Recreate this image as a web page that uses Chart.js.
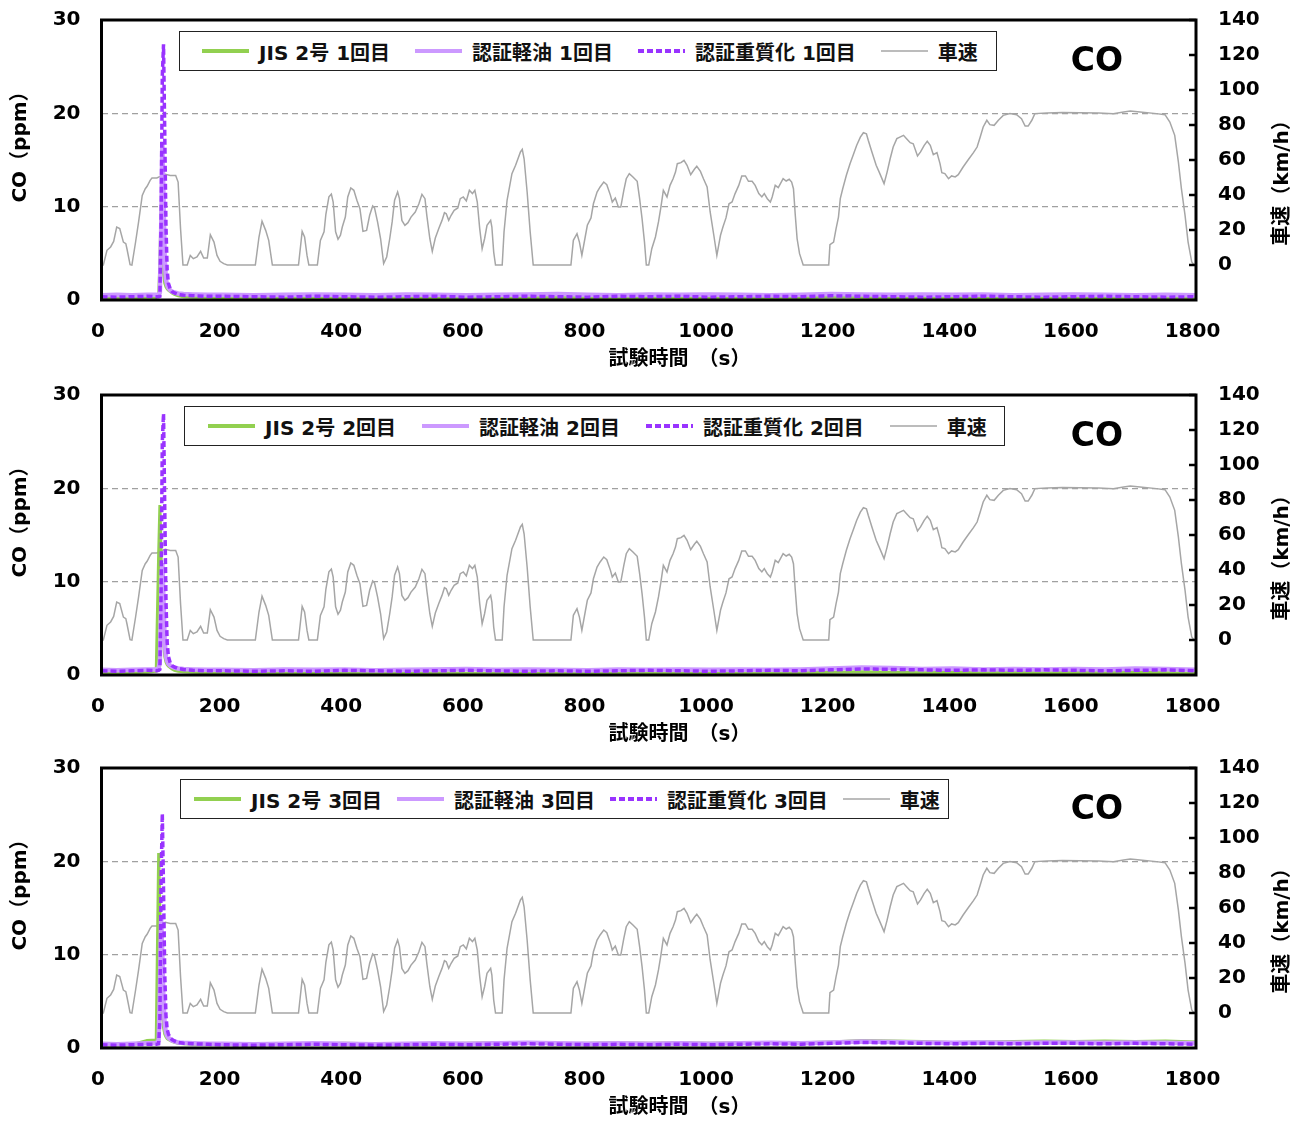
<!DOCTYPE html>
<html lang="ja">
<head>
<meta charset="utf-8">
<title>CO 排出量と車速</title>
<script src="https://cdn.jsdelivr.net/npm/chart.js@4.4.1/dist/chart.umd.min.js"></script>
<style>
  html, body { margin: 0; padding: 0; background: #fff; }
  body { width: 1312px; height: 1122px; position: relative; overflow: hidden;
         font-family: "DejaVu Sans", "Noto Sans CJK JP", sans-serif; }
  .panel { position: absolute; left: 0; width: 1312px; height: 374px; }
  .panel canvas { position: absolute; left: 0; top: 0; }
  .legend { position: absolute; top: 29px; height: 40px; box-sizing: border-box;
            border: 1.5px solid #222; background: #fff; display: flex; align-items: center;
            font-weight: bold; font-size: 20px; color: #111; white-space: nowrap; }
  .legend .item { display: flex; align-items: center; }
  .legend svg { display: block; margin-right: 10px; }
</style>
</head>
<body>
<div class="panel" id="panel1" style="top:2px"><canvas id="chart1"></canvas></div>
<div class="panel" id="panel2" style="top:377px"><canvas id="chart2"></canvas></div>
<div class="panel" id="panel3" style="top:750px"><canvas id="chart3"></canvas></div>

<script>
// ---- axis tick values ----
const xTickValues = [0, 200, 400, 600, 800, 1000, 1200, 1400, 1600, 1800];
const coTickValues = [0, 10, 20, 30];
const speedTickValues = [0, 20, 40, 60, 80, 100, 120, 140];

// ---- vehicle speed trace (s, km/h) ----
const speedTimes = [
  0,3,9,15,20,25,30,36,40,42,47,50,56,61,67,72,75,80,83,91,100,105,113,122,126,130,134,141,146,151,157,163,168,174,179,185,190,195,201,207,
  253,259,264,270,275,281,324,330,334,338,341,355,
  360,366,369,374,378,381,385,389,393,396,401,405,410,415,420,425,430,436,441,446,449,454,
  459,464,469,474,478,482,487,490,494,499,504,509,516,522,527,532,535,540,544,549,555,560,
  564,567,571,575,580,586,590,595,600,605,610,614,618,622,626,630,634,640,642,645,648,659,
  662,667,675,681,684,689,692,695,700,705,710,772,
  776,782,786,790,796,799,805,809,815,820,826,831,837,840,845,850,854,859,863,868,874,
  881,885,889,893,896,900,905,911,916,920,924,930,935,940,944,947,953,958,963,969,975,979,985,
  990,996,1001,1007,1012,1018,1022,1027,1032,1037,1042,1048,1053,1059,1064,1070,1075,1081,1086,1090,1095,1100,
  1103,1108,1113,1121,1126,1131,1135,1138,1141,1144,1148,1154,1196,1198,1204,1208,1212,1215,1219,1225,
  1231,1237,1242,1248,1253,1258,1261,1267,1274,1279,1287,1292,1297,1302,1308,1313,1319,1324,1330,1335,
  1342,1347,1353,1358,1363,1368,1374,1379,1382,1387,1393,1398,1404,1409,1417,1426,1434,1440,1445,
  1450,1456,1461,1468,1475,1483,1494,1505,1513,1519,1524,1530,1535,1555,1580,1609,1640,1664,1681,1692,1708,1735,1749,1757,1765,1771,1776,1782,1787,1793,1797,1800
];
const speedKmh = [
  0,0,8.4,10.3,13.5,21.7,20.8,13.1,12.2,9,0.2,0,13,24.6,39.8,43.6,45,48.4,49.7,49.7,51.2,51.8,51.2,51.2,47.4,20.8,0,0,5.5,3.6,4.6,7.8,4,4,17.3,13.1,5.5,2.1,0.8,0,
  0,16,25,19.8,14.1,0,0,19.2,16,5.5,0,0,
  14,19,29,39,40.5,36,19,14.7,17,21.7,27.4,38.9,44,42.7,37,32.2,19.2,19.8,28.4,33.7,32.6,24.6,
  15,0.8,4.6,15,24.6,37,41.7,37.9,25.5,22.7,24.2,27.4,30.3,35,40.4,37.9,28.4,15,7.8,15.4,21.1,25.5,
  29.9,29.3,25.5,28.4,31.2,32.6,37.9,38.9,36.6,42.7,40.8,42.7,36,20.8,9.3,15,22.7,25.5,21.7,7.4,0,0,
  18.9,37,52.2,57,59.8,64.6,66.1,60.7,41.7,18.9,0,0,
  14.1,17.9,13.1,5.5,17,22.7,26.9,35,41.7,44.6,47.4,45.9,39.8,36,38.3,33.1,33.1,42.7,49.3,52.2,50.3,
  47.8,37.9,26.5,13.1,0,0,9.3,16,24.6,33.1,42.7,38.9,45.5,49.3,53.1,57.9,58.5,59.8,57,51.6,54.7,56.4,53.5,
  49.3,44.6,30.3,17,5.5,17,21.7,26.9,35,36,40.8,45.5,50.9,50.9,47.8,47.8,45.5,40.8,38.9,40.8,37.9,36,
  38.9,45.5,44.2,49.3,48,49,47.4,43.6,28.4,15,6.5,0,0,11.6,13.1,20.7,27.4,37.9,43.6,51.3,
  57.9,63.6,68.4,73.1,75.6,75,71.3,64.6,57,53.1,46.5,53.1,60.7,67.4,72.2,73.1,74.1,72.2,69.9,69.3,
  62.3,64.6,68.4,70.7,68.4,63,64.2,57.9,52.7,52.2,49.3,50.9,50.3,51.6,56,60.4,64.2,67.4,73,
  78.9,82.7,80.2,79.8,82.7,85.5,86.5,85.9,83.6,79.4,79.4,82.7,86.5,86.9,87.2,87,86.8,86.5,87.4,88,87.4,86.5,85.9,81.7,74.1,58.9,43.6,28.4,13.1,1.7,0,0
];

// ---- CO concentration (ppm), sampled at coTimes ----
const coTimes = [
  0,25,50,75,90,94,96,98,100,102,104,106,108,110,113,116,120,126,135,150,175,
  200,250,300,350,400,450,500,550,600,650,700,750,800,850,900,950,1000,1050,1100,1150,1200,1250,1300,1350,1400,1450,1500,1550,1600,1650,1700,1750,1800
];

// run 1
const jisRun1 = [
  0.25,0.2,0.25,0.3,0.3,0.5,4,10,6,2.8,1.8,1.4,1.2,1.05,0.9,0.75,0.6,0.45,0.35,0.3,0.3,
  0.25,0.2,0.25,0.3,0.2,0.25,0.2,0.3,0.25,0.2,0.25,0.3,0.25,0.2,0.25,0.3,0.2,0.25,0.3,0.25,0.35,0.3,0.25,0.2,0.25,0.3,0.25,0.2,0.3,0.25,0.2,0.25,0.2
];
const certRun1 = [
  0.5,0.55,0.5,0.55,0.55,0.6,0.8,7,16.9,11,4.5,2.2,1.6,1.3,1.05,0.9,0.8,0.7,0.65,0.6,0.55,
  0.55,0.5,0.55,0.6,0.55,0.5,0.6,0.55,0.5,0.55,0.6,0.65,0.55,0.5,0.6,0.55,0.6,0.55,0.5,0.55,0.65,0.6,0.55,0.6,0.55,0.6,0.5,0.55,0.6,0.55,0.5,0.55,0.5
];
const heavyRun1 = [
  0.35,0.3,0.35,0.4,0.35,0.35,0.4,8,24,27.4,18,8,3.2,1.8,1.2,0.9,0.75,0.6,0.5,0.45,0.4,
  0.4,0.35,0.3,0.4,0.35,0.3,0.35,0.4,0.3,0.35,0.4,0.35,0.3,0.4,0.35,0.4,0.3,0.35,0.4,0.35,0.45,0.4,0.35,0.3,0.35,0.4,0.35,0.3,0.35,0.4,0.35,0.3,0.35
];

// run 2
const jisRun2 = [
  0.2,0.2,0.25,0.3,0.4,13,18.2,13,7,3.5,2,1.4,1.1,0.95,0.8,0.65,0.5,0.4,0.35,0.3,0.25,
  0.2,0.15,0.2,0.25,0.2,0.15,0.2,0.25,0.2,0.2,0.15,0.2,0.25,0.2,0.15,0.2,0.25,0.2,0.2,0.25,0.3,0.35,0.3,0.25,0.3,0.25,0.3,0.25,0.3,0.25,0.3,0.25,0.2
];
const certRun2 = [
  0.55,0.5,0.55,0.6,0.6,0.7,1.5,7,12,8,3.5,2,1.5,1.2,1,0.9,0.8,0.7,0.65,0.6,0.55,
  0.55,0.5,0.6,0.55,0.6,0.5,0.55,0.6,0.65,0.55,0.6,0.55,0.5,0.6,0.55,0.6,0.55,0.6,0.55,0.6,0.7,0.8,0.75,0.65,0.7,0.6,0.65,0.6,0.65,0.6,0.7,0.65,0.55
];
const heavyRun2 = [
  0.45,0.4,0.45,0.5,0.45,0.5,0.6,9,25,28,18,8,3.5,2,1.3,1,0.85,0.7,0.6,0.5,0.45,
  0.45,0.4,0.45,0.4,0.5,0.45,0.4,0.45,0.5,0.45,0.4,0.45,0.4,0.45,0.5,0.45,0.4,0.45,0.5,0.45,0.55,0.65,0.6,0.55,0.5,0.55,0.5,0.55,0.5,0.45,0.5,0.55,0.45
];

// run 3
const jisRun3 = [
  0.3,0.3,0.35,0.8,0.85,20.9,15,8,4,2.2,1.5,1.2,1,0.9,0.8,0.7,0.6,0.5,0.45,0.4,0.4,
  0.4,0.35,0.4,0.45,0.5,0.45,0.4,0.45,0.5,0.55,0.5,0.45,0.5,0.55,0.5,0.55,0.5,0.55,0.6,0.55,0.65,0.8,0.75,0.7,0.6,0.65,0.7,0.75,0.7,0.75,0.7,0.75,0.65
];
const certRun3 = [
  0.45,0.4,0.45,0.5,0.5,0.8,6,14,10,5,2.5,1.7,1.3,1.1,0.95,0.8,0.7,0.6,0.55,0.5,0.45,
  0.45,0.4,0.45,0.5,0.45,0.4,0.45,0.5,0.45,0.5,0.55,0.5,0.45,0.5,0.45,0.5,0.45,0.5,0.55,0.5,0.6,0.7,0.65,0.6,0.55,0.6,0.55,0.6,0.6,0.55,0.6,0.55,0.5
];
const heavyRun3 = [
  0.35,0.3,0.35,0.4,0.4,0.45,3,18,25.1,17,8,3.5,2,1.5,1.1,0.9,0.75,0.6,0.5,0.45,0.4,
  0.35,0.3,0.35,0.4,0.35,0.3,0.35,0.4,0.35,0.4,0.45,0.4,0.35,0.4,0.35,0.4,0.35,0.4,0.45,0.4,0.5,0.6,0.55,0.5,0.45,0.5,0.45,0.5,0.5,0.45,0.5,0.45,0.4
];

const runNames = ['1回目', '2回目', '3回目'];

// ---- styling ----
const FONT = '"DejaVu Sans", "Noto Sans CJK JP", sans-serif';
const COLORS = { jis: '#92d050', cert: '#cc99ff', heavy: '#9933ff', speed: '#a6a6a6', grid: '#a0a0a0' };

const panels = [
  { canvas: 'chart1', panel: 'panel1', jis: jisRun1, cert: certRun1, heavy: heavyRun1, run: runNames[0],
    legend: { left: 179, padL: 22, gap: 25, padR: 18 } },
  { canvas: 'chart2', panel: 'panel2', jis: jisRun2, cert: certRun2, heavy: heavyRun2, run: runNames[1],
    legend: { left: 184, padL: 23, gap: 26, padR: 17 } },
  { canvas: 'chart3', panel: 'panel3', jis: jisRun3, cert: certRun3, heavy: heavyRun3, run: runNames[2],
    legend: { left: 180, padL: 13, gap: 15, padR: 8 } }
];

const toPoints = (xs, ys) => xs.map((x, i) => ({ x, y: ys[i] }));

// frame, inner ticks of the speed axis, panel tag and axis titles
const decor = {
  id: 'decor',
  afterDatasetsDraw(chart, args, opts) {
    const { ctx, chartArea: a, scales } = chart;
    ctx.save();
    ctx.strokeStyle = '#000';
    ctx.lineWidth = 3;
    ctx.strokeRect(a.left, a.top, a.right - a.left, a.bottom - a.top);
    const ys = scales.ySpeed;
    ctx.lineWidth = 2.5;
    speedTickValues.forEach(v => {
      const y = ys.getPixelForValue(v);
      ctx.beginPath(); ctx.moveTo(a.right - 7, y); ctx.lineTo(a.right, y); ctx.stroke();
    });
    ctx.fillStyle = '#000';
    ctx.textBaseline = 'middle';
    ctx.textAlign = 'center';
    ctx.font = 'bold 33px ' + FONT;
    ctx.fillText(opts.tag, a.right - 99, a.top + 42);

    ctx.font = 'bold 20px ' + FONT;
    ctx.textAlign = 'left';
    ctx.fillText(opts.xTitle, a.left + 507, a.bottom + 60);
    ctx.textAlign = 'center';
    ctx.save();
    ctx.translate(21, a.top + 122);
    ctx.rotate(-Math.PI / 2);
    ctx.fillText(opts.yTitle, 0, 0);
    ctx.restore();
    ctx.save();
    ctx.translate(1283, a.top + 158);
    ctx.rotate(-Math.PI / 2);
    ctx.fillText(opts.y2Title, 0, 0);
    ctx.restore();
    ctx.restore();
  }
};

function buildLegend(p, datasets) {
  const box = document.createElement('div');
  box.className = 'legend';
  box.style.left = p.legend.left + 'px';
  box.style.paddingLeft = p.legend.padL + 'px';
  box.style.paddingRight = p.legend.padR + 'px';
  const order = [2, 1, 0, 3]; // JIS, 認証軽油, 認証重質化, 車速
  order.forEach((idx, k) => {
    const ds = datasets[idx];
    const item = document.createElement('div');
    item.className = 'item';
    if (k > 0) item.style.marginLeft = p.legend.gap + 'px';
    const ns = 'http://www.w3.org/2000/svg';
    const svg = document.createElementNS(ns, 'svg');
    svg.setAttribute('width', '47'); svg.setAttribute('height', '10');
    const ln = document.createElementNS(ns, 'line');
    ln.setAttribute('x1', '0'); ln.setAttribute('x2', '47');
    ln.setAttribute('y1', '5'); ln.setAttribute('y2', '5');
    ln.setAttribute('stroke', ds.borderColor);
    ln.setAttribute('stroke-width', idx === 3 ? 1.5 : 4);
    if (ds.borderDash) ln.setAttribute('stroke-dasharray', ds.borderDash.join(' '));
    svg.appendChild(ln);
    const span = document.createElement('span');
    span.textContent = ds.label;
    item.appendChild(svg); item.appendChild(span);
    box.appendChild(item);
  });
  document.getElementById(p.panel).appendChild(box);
}

const tickFont = { family: FONT, size: 20, weight: 'bold' };
const zeroPad = s => { s.paddingTop = 0; s.paddingBottom = 0; s.paddingLeft = 0; s.paddingRight = 0; };

panels.forEach(p => {
  const datasets = [
    { label: '認証重質化 ' + p.run, data: toPoints(coTimes, p.heavy), yAxisID: 'y',
      borderColor: COLORS.heavy, borderWidth: 3.5, borderDash: [6, 3], order: 0 },
    { label: '認証軽油 ' + p.run, data: toPoints(coTimes, p.cert), yAxisID: 'y',
      borderColor: COLORS.cert, borderWidth: 4.5, order: 1 },
    { label: 'JIS 2号 ' + p.run, data: toPoints(coTimes, p.jis), yAxisID: 'y',
      borderColor: COLORS.jis, borderWidth: 3, order: 2 },
    { label: '車速', data: toPoints(speedTimes, speedKmh), yAxisID: 'ySpeed',
      borderColor: COLORS.speed, borderWidth: 1.5, order: 3 }
  ];
  datasets.forEach(d => { d.pointRadius = 0; d.tension = 0; d.fill = false; });

  new Chart(document.getElementById(p.canvas), {
    type: 'line',
    data: { datasets },
    plugins: [decor],
    options: {
      responsive: true,
      maintainAspectRatio: false,
      devicePixelRatio: 1,
      animation: false,
      events: [],
      layout: { autoPadding: false, padding: { top: 18, left: 0, right: 0, bottom: 0 } },
      plugins: {
        legend: { display: false },
        tooltip: { enabled: false },
        decor: { tag: 'CO', xTitle: '試験時間　（s）', yTitle: 'CO（ppm）', y2Title: '車速（km/h）' }
      },
      scales: {
        x: {
          type: 'linear', min: 0, max: 1800,
          afterBuildTicks: s => { s.ticks = xTickValues.map(v => ({ value: v })); },
          afterFit: s => { s.height = 76; zeroPad(s); },
          grid: { display: false },
          border: { display: false },
          ticks: { font: tickFont, color: '#000', padding: 12, labelOffset: -3.5, maxRotation: 0,
                   callback: v => String(v) }
        },
        y: {
          position: 'left', min: 0, max: 30,
          afterBuildTicks: s => { s.ticks = coTickValues.map(v => ({ value: v })); },
          afterFit: s => { s.width = 101.5; zeroPad(s); },
          grid: {
            drawTicks: false, lineWidth: 1.2,
            color: c => (c.tick && (c.tick.value === 10 || c.tick.value === 20)) ? COLORS.grid : 'rgba(0,0,0,0)'
          },
          border: { display: false, dash: [6, 4] },
          ticks: { font: tickFont, color: '#000', padding: 21, callback: v => String(v) }
        },
        ySpeed: {
          position: 'right', min: -20, max: 140,
          afterBuildTicks: s => { s.ticks = speedTickValues.map(v => ({ value: v })); },
          afterFit: s => { s.width = 116; zeroPad(s); },
          grid: { display: false, drawTicks: false },
          border: { display: false },
          ticks: { font: tickFont, color: '#000', padding: 22, callback: v => String(v) }
        }
      }
    }
  });
  buildLegend(p, datasets);
});
</script>
</body>
</html>
